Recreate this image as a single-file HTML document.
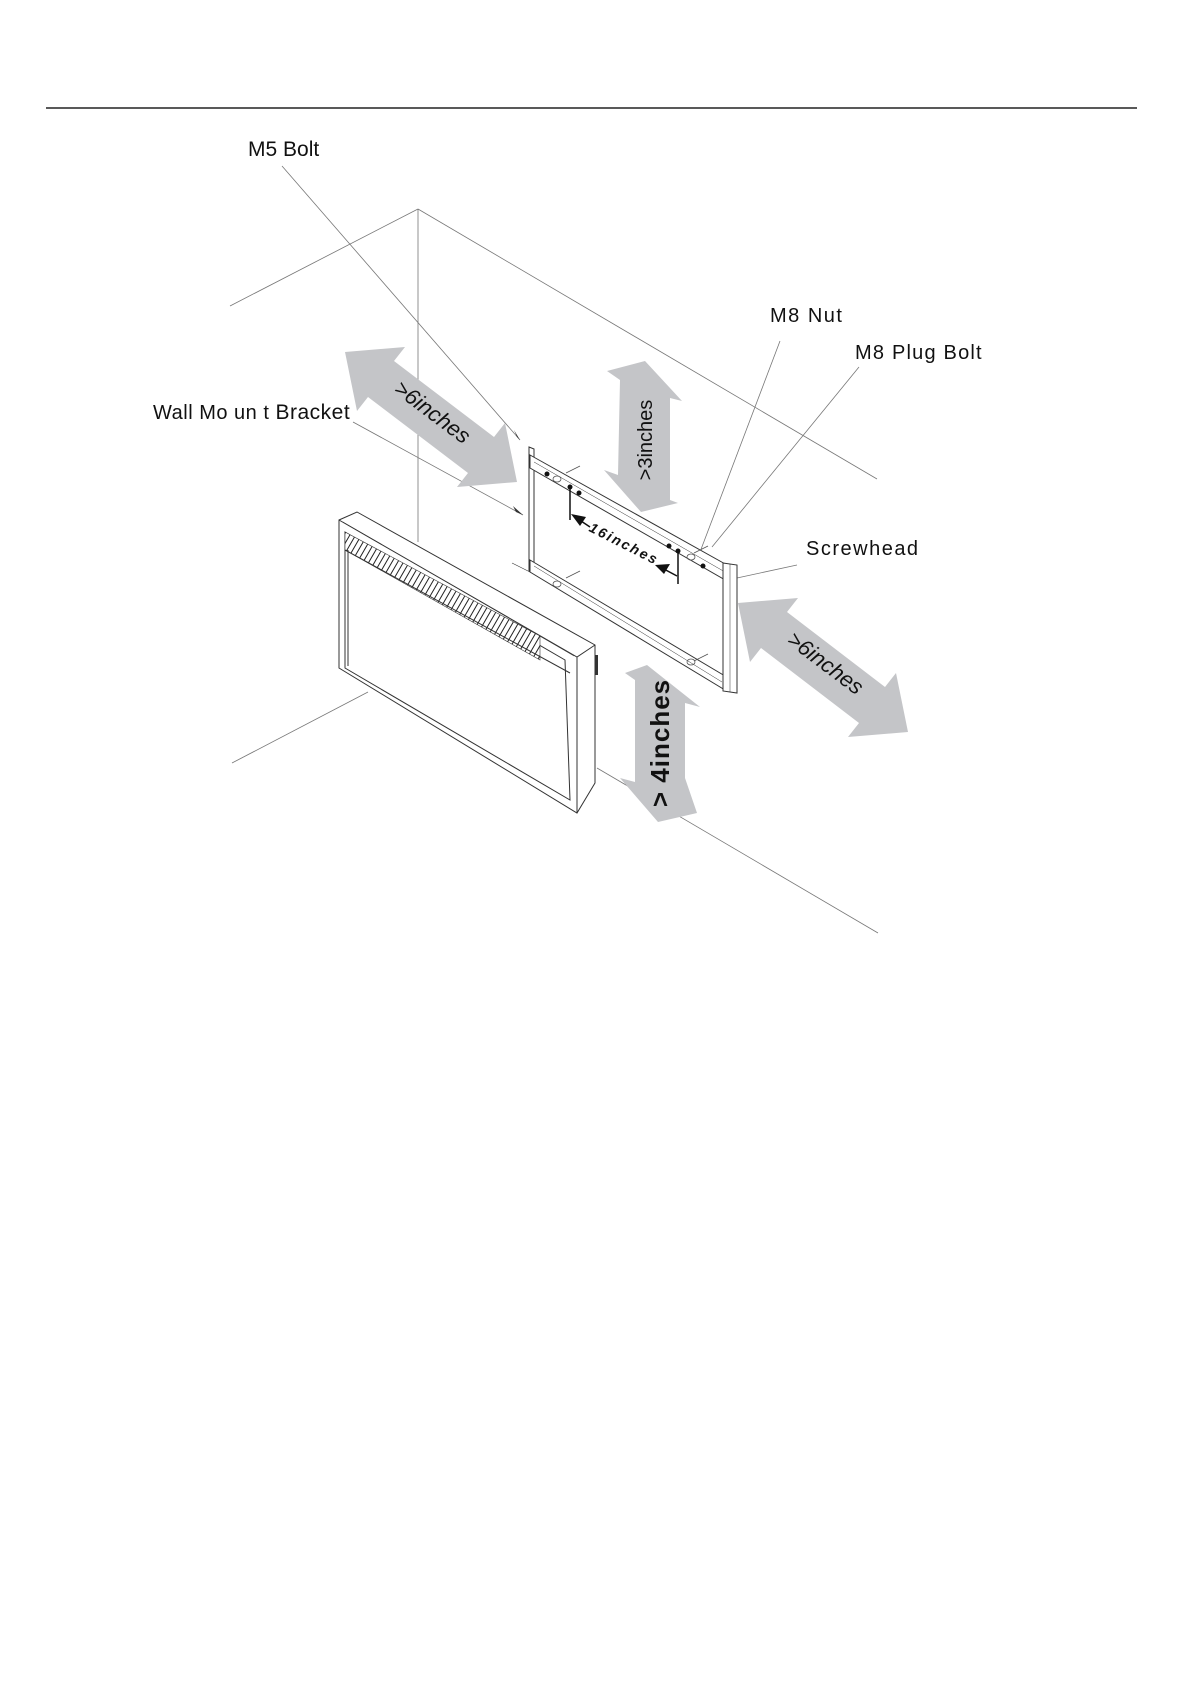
<!DOCTYPE html>
<html><head><meta charset="utf-8"><style>
html,body{margin:0;padding:0;background:#fff;}
svg{display:block;}
text{font-family:"Liberation Sans",sans-serif;}
</style></head><body>
<svg width="1193" height="1685" viewBox="0 0 1193 1685" xmlns="http://www.w3.org/2000/svg">
<defs>
<pattern id="hatch" width="5" height="5" patternUnits="userSpaceOnUse" patternTransform="rotate(30)">
<rect width="5" height="5" fill="#fff"/><line x1="0" y1="0" x2="0" y2="5" stroke="#222" stroke-width="2"/>
</pattern>
</defs>
<line x1="46" y1="108" x2="1137" y2="108" stroke="#222" stroke-width="1.5"/>

<g stroke="#777" stroke-width="0.8" fill="none">
<line x1="418" y1="209" x2="230" y2="306"/>
<line x1="418" y1="209" x2="877" y2="479"/>
<line x1="418" y1="209" x2="418" y2="542"/>
<line x1="232" y1="763" x2="368" y2="692"/>
<line x1="597" y1="768" x2="878" y2="933"/>
<line x1="282" y1="166" x2="520" y2="440"/>
<line x1="353" y1="422" x2="523" y2="515"/>
<line x1="780" y1="341" x2="700" y2="552"/>
<line x1="859" y1="367" x2="712" y2="547"/>
<line x1="797" y1="565" x2="737" y2="578"/>
</g>
<polygon points="523,515 513,506 516,512" fill="#333"/>
<polygon points="520,440 514,430 517,437" fill="#333"/>

<text x="248" y="156" font-size="21" fill="#111">M5 Bolt</text>
<text x="153" y="419" font-size="20" fill="#111" letter-spacing="0.5">Wall Mo un t <tspan font-size="21">Bracket</tspan></text>
<text x="770" y="322" font-size="20" fill="#111" letter-spacing="1.5">M8 Nut</text>
<text x="855" y="359" font-size="20" fill="#111" letter-spacing="1.2">M8 Plug  Bolt</text>
<text x="806" y="555" font-size="20" fill="#111" letter-spacing="1.5">Screwhead</text>

<g fill="#c4c5c8">
<polygon points="345,352 405,347 394,361 494,437 505,423 517,482 457,487 468,473 368,397 357,411"/>
<polygon points="738,603 798,598 787,612 885,687 896,673 908,732 848,737 859,723 761,648 750,662"/>
<polygon points="607,371 645,361 682,401 670,398 670,500 678,503 641,512 604,470 618,475 620,380"/>
<polygon points="625,673 647,665 700,707 685,703 685,778 697,813 658,822 620,778 635,782 635,680"/>
</g>
<g fill="#111">
<text transform="translate(428,418) rotate(37)" font-size="22" text-anchor="middle" font-style="italic">&gt;6inches</text>
<text transform="translate(821,669) rotate(37)" font-size="22" text-anchor="middle" font-style="italic">&gt;6inches</text>
<text transform="translate(652,440) rotate(-90)" font-size="20" text-anchor="middle">&gt;3inches</text>
<text transform="translate(669,743) rotate(-90)" font-size="26" font-weight="bold" text-anchor="middle" letter-spacing="1">&gt; 4inches</text>
</g>

<g stroke="#333" stroke-width="1" fill="#fff">
<polygon points="529,447 534,449 534,573 529,571"/>
<polygon points="530,455 727,565 727,581 530,468"/>
<line x1="534" y1="462" x2="725" y2="572" stroke-width="0.5"/>
<polygon points="530,560 725,676 725,690 530,572"/>
<line x1="534" y1="566" x2="722" y2="682" stroke-width="0.5"/>
<polygon points="723,563 737,565 737,693 723,691"/>
<line x1="730" y1="564" x2="730" y2="692" stroke-width="0.5"/>
<line x1="512" y1="563" x2="530" y2="572" stroke-width="0.6"/>
</g>
<g fill="#111">
<circle cx="547" cy="474" r="2.5"/><circle cx="570" cy="487" r="2.5"/><circle cx="579" cy="493" r="2.5"/>
<circle cx="669" cy="546" r="2.5"/><circle cx="678" cy="551" r="2.5"/><circle cx="703" cy="566" r="2.5"/>
</g>
<g stroke="#555" stroke-width="0.8" fill="none">
<line x1="566" y1="473" x2="580" y2="466"/><line x1="694" y1="553" x2="708" y2="546"/>
<line x1="566" y1="578" x2="580" y2="571"/><line x1="694" y1="661" x2="708" y2="654"/>
<ellipse cx="557" cy="479" rx="4" ry="3"/><ellipse cx="691" cy="557" rx="4" ry="3"/>
<ellipse cx="557" cy="584" rx="4" ry="3"/><ellipse cx="691" cy="662" rx="4" ry="3"/>
</g>
<g stroke="#111" stroke-width="1.5">
<line x1="570" y1="487" x2="570" y2="520"/><line x1="678" y1="552" x2="678" y2="584"/>
<line x1="590" y1="527" x2="578" y2="519"/><line x1="677" y1="576" x2="662" y2="568"/>
</g>
<polygon points="571,514 586,517 580,526" fill="#111"/>
<polygon points="655,565 670,564 664,574" fill="#111"/>
<text transform="translate(622,548) rotate(27)" font-size="14" font-weight="bold" font-style="italic" text-anchor="middle" letter-spacing="2" fill="#111">16inches</text>

<g stroke="#333" stroke-width="1" fill="#fff">
<polygon points="339,520 357,512 595,645 595,783 577,813 339,668"/>
<polyline points="339,520 577,657 595,645" fill="none"/>
<line x1="577" y1="657" x2="577" y2="813"/>
<line x1="343" y1="522" x2="574" y2="656" stroke-width="0.5"/>
<polygon points="345,532 565,660 570,800 345,668"/>
<polygon points="345,532 540,636 540,660 345,550" fill="url(#hatch)" stroke-width="0.6"/>
<line x1="345" y1="550" x2="570" y2="673"/>
<line x1="348" y1="550" x2="348" y2="666"/>
</g>
<rect x="595" y="655" width="3" height="20" fill="#333"/>
</svg>
</body></html>
